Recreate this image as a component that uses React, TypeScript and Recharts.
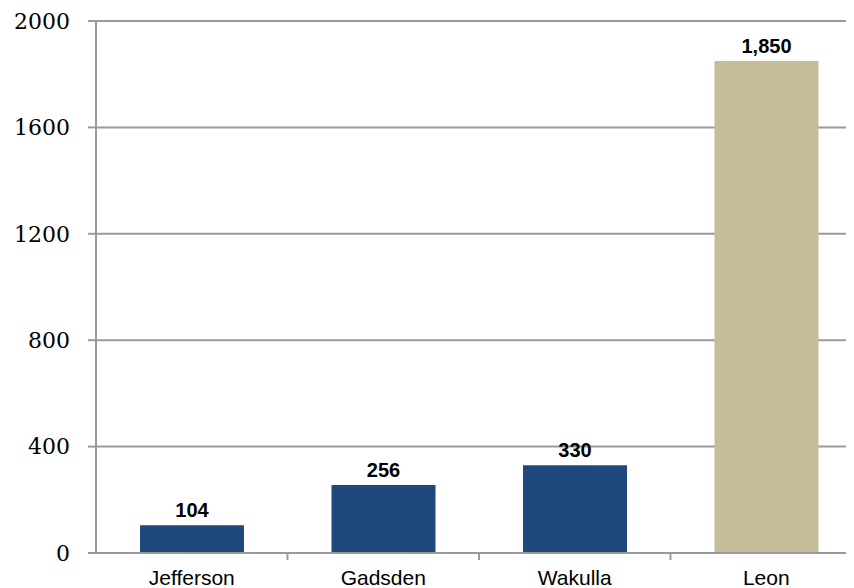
import { BarChart, Bar, XAxis, YAxis, CartesianGrid, Cell, LabelList } from "recharts";

const counties = ["Jefferson", "Gadsden", "Wakulla", "Leon"];
const totals = [104, 256, 330, 1850];
const barColors = ["#1F497D", "#1F497D", "#1F497D", "#C4BD97"];
const yTicks = [0, 400, 800, 1200, 1600, 2000];

const data = counties.map((name, i) => ({ name, value: totals[i] }));

const TICK_SIZE = 5;
const TICK_MARGIN = 12;

// category label plus a tick mark on the boundary between categories (Excel style)
function CountyTick(p: any) {
  const half = p.payload?.offset ?? 0;
  const axisY = p.y - TICK_SIZE - TICK_MARGIN;
  return (
    <g>
      <text
        x={p.x}
        y={p.y}
        dy="0.71em"
        textAnchor="middle"
        fill="#000"
        fontSize={21}
        fontFamily="Liberation Sans, Arial, sans-serif"
      >
        {p.payload.value}
      </text>
      {p.index < counties.length - 1 && (
        <line
          x1={p.x + half}
          x2={p.x + half}
          y1={axisY}
          y2={axisY + 7}
          stroke="#9a9a9a"
          strokeWidth={2}
        />
      )}
    </g>
  );
}

export default function App() {
  return (
    <div style={{ width: 846, height: 580, overflow: "hidden" }}>
      <BarChart
        width={854}
        height={590}
        data={data}
        margin={{ top: 13, right: 0, bottom: 15, left: 0 }}
      >
        <CartesianGrid vertical={false} stroke="#9a9a9a" strokeWidth={2} />
        <XAxis
          dataKey="name"
          height={30}
          axisLine={{ stroke: "#9a9a9a", strokeWidth: 2 }}
          tickLine={false}
          tickSize={TICK_SIZE}
          tickMargin={TICK_MARGIN}
          tick={CountyTick}
          interval={0}
        />
        <YAxis
          width={88}
          domain={[0, 2000]}
          ticks={yTicks}
          axisLine={{ stroke: "#9a9a9a", strokeWidth: 2 }}
          tickLine={{ stroke: "#9a9a9a", strokeWidth: 2 }}
          tickSize={8}
          tickMargin={18}
          tick={{ fill: "#000", fontSize: 22, fontFamily: "DejaVu Serif, serif" }}
        />
        <Bar dataKey="value" barSize={104} isAnimationActive={false}>
          {data.map((d, i) => (
            <Cell key={d.name} fill={barColors[i]} />
          ))}
          <LabelList
            dataKey="value"
            position="top"
            offset={8}
            formatter={(v: number) => v.toLocaleString("en-US")}
            style={{ fill: "#000", fontSize: 20, fontWeight: "bold", fontFamily: "Liberation Sans, Arial, sans-serif" }}
          />
        </Bar>
      </BarChart>
    </div>
  );
}
